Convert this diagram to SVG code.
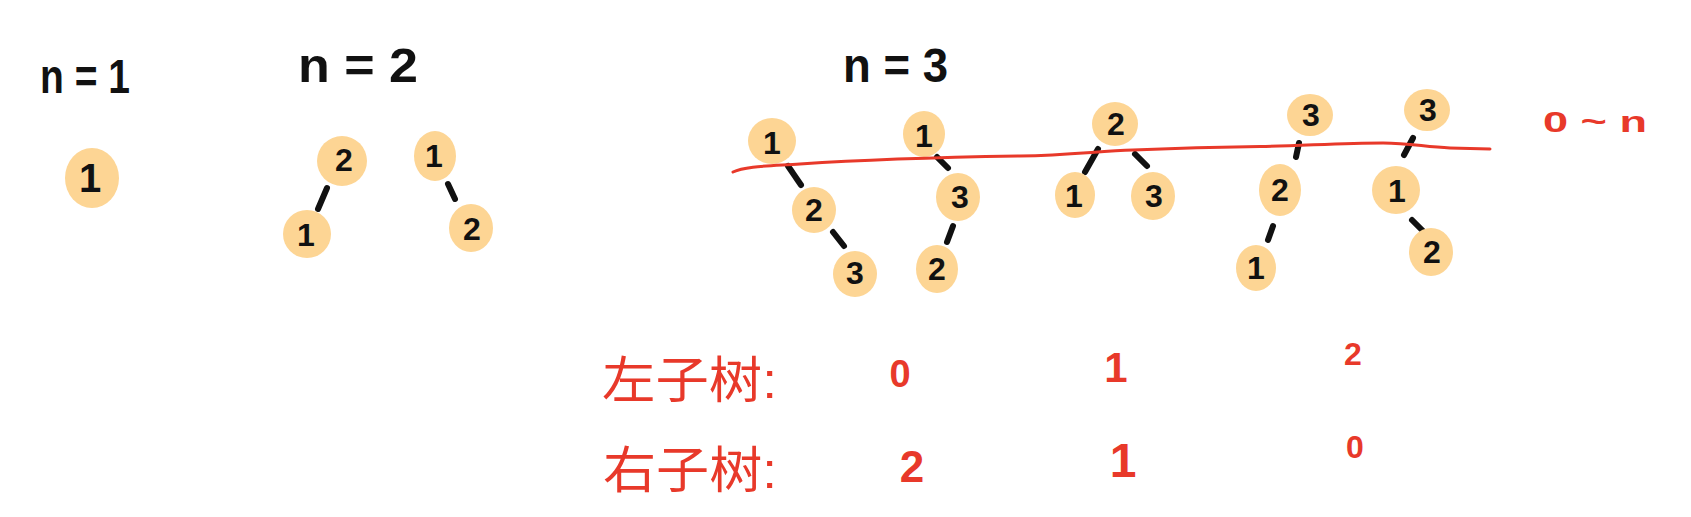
<svg xmlns="http://www.w3.org/2000/svg" width="1691" height="517" viewBox="0 0 1691 517">
<style>
.node{fill:#FDD594}
.lbl{font-family:"Liberation Sans","DejaVu Sans",sans-serif;font-weight:bold;font-size:32px;fill:#111;text-anchor:middle;dominant-baseline:central}
.title{font-family:"Liberation Sans","DejaVu Sans",sans-serif;font-weight:bold;font-size:48px;fill:#111}
.red{font-family:"Liberation Sans","Noto Sans CJK SC",sans-serif;fill:#E8392A}
.num{text-anchor:middle;font-weight:bold}
.edge{stroke:#111;stroke-width:6;stroke-linecap:round;fill:none}
</style>
<rect width="1691" height="517" fill="#fff"/>
<g id="titles">
<text class="title" x="40" y="93" textLength="90" lengthAdjust="spacingAndGlyphs">n = 1</text>
<text class="title" x="298" y="82" textLength="120" lengthAdjust="spacingAndGlyphs">n = 2</text>
<text class="title" x="843" y="82" textLength="105" lengthAdjust="spacingAndGlyphs">n = 3</text>
</g>
<g id="connectors">
<line class="edge" x1="327" y1="188" x2="318" y2="209"/>
<line class="edge" x1="448" y1="184" x2="455" y2="199"/>
<line class="edge" x1="788" y1="166" x2="801" y2="185"/>
<line class="edge" x1="833" y1="232" x2="844" y2="246"/>
<line class="edge" x1="937" y1="157" x2="948" y2="168"/>
<line class="edge" x1="953" y1="226" x2="947" y2="242"/>
<line class="edge" x1="1098" y1="149" x2="1085" y2="172"/>
<line class="edge" x1="1135" y1="154" x2="1147" y2="166"/>
<line class="edge" x1="1299" y1="143" x2="1296" y2="157"/>
<line class="edge" x1="1273" y1="226" x2="1268" y2="240"/>
<line class="edge" x1="1413" y1="138" x2="1404" y2="155"/>
<line class="edge" x1="1412" y1="220" x2="1426" y2="234"/>
</g>
<g id="n1-1"><ellipse class="node" cx="92" cy="178" rx="27" ry="30"/><text class="lbl" x="90" y="178" style="font-size:40px">1</text></g>
<g id="n2a-2"><ellipse class="node" cx="342" cy="161" rx="25" ry="25"/><text class="lbl" x="344" y="160">2</text></g>
<g id="n2a-1"><ellipse class="node" cx="307" cy="234" rx="24" ry="24"/><text class="lbl" x="306" y="235">1</text></g>
<g id="n2b-1"><ellipse class="node" cx="435" cy="156" rx="21" ry="25"/><text class="lbl" x="434" y="156">1</text></g>
<g id="n2b-2"><ellipse class="node" cx="471" cy="228" rx="22" ry="24"/><text class="lbl" x="472" y="229">2</text></g>
<g id="n3a-1"><ellipse class="node" cx="772" cy="141" rx="24" ry="23"/><text class="lbl" x="772" y="143">1</text></g>
<g id="n3a-2"><ellipse class="node" cx="814" cy="210" rx="22" ry="23"/><text class="lbl" x="814" y="210">2</text></g>
<g id="n3a-3"><ellipse class="node" cx="855" cy="274" rx="22" ry="23"/><text class="lbl" x="855" y="273">3</text></g>
<g id="n3b-1"><ellipse class="node" cx="924" cy="134" rx="21" ry="23"/><text class="lbl" x="924" y="136">1</text></g>
<g id="n3b-3"><ellipse class="node" cx="958" cy="197" rx="22" ry="24"/><text class="lbl" x="960" y="197">3</text></g>
<g id="n3b-2"><ellipse class="node" cx="937" cy="269" rx="21" ry="24"/><text class="lbl" x="937" y="269">2</text></g>
<g id="n3c-2"><ellipse class="node" cx="1115" cy="124" rx="23" ry="22"/><text class="lbl" x="1116" y="124">2</text></g>
<g id="n3c-1"><ellipse class="node" cx="1075" cy="195" rx="20" ry="23"/><text class="lbl" x="1074" y="196">1</text></g>
<g id="n3c-3"><ellipse class="node" cx="1153" cy="196" rx="22" ry="24"/><text class="lbl" x="1154" y="196">3</text></g>
<g id="n3d-3"><ellipse class="node" cx="1310" cy="115" rx="23" ry="21"/><text class="lbl" x="1311" y="115">3</text></g>
<g id="n3d-2"><ellipse class="node" cx="1280" cy="190" rx="21" ry="26"/><text class="lbl" x="1280" y="190">2</text></g>
<g id="n3d-1"><ellipse class="node" cx="1256" cy="268" rx="20" ry="23"/><text class="lbl" x="1256" y="268">1</text></g>
<g id="n3e-3"><ellipse class="node" cx="1427" cy="110" rx="23" ry="21"/><text class="lbl" x="1428" y="110">3</text></g>
<g id="n3e-1"><ellipse class="node" cx="1396" cy="190" rx="24" ry="24"/><text class="lbl" x="1397" y="191">1</text></g>
<g id="n3e-2"><ellipse class="node" cx="1431" cy="252" rx="22" ry="24"/><text class="lbl" x="1432" y="252">2</text></g>
<g id="divider">
<path d="M733 172 C745 166 770 166 800 164 C860 160 960 157 1020 156 C1070 155 1100 151 1133 150 C1180 148 1220 147 1260 146.5 C1300 146 1340 143 1383 143 C1410 143 1425 147 1450 148 L1490 149" fill="none" stroke="#E8392A" stroke-width="3" stroke-linecap="round"/>
</g>
<g id="annotations">
<text class="red" x="1543" y="132" font-size="30" font-weight="bold" textLength="104" lengthAdjust="spacingAndGlyphs">0 ~ n</text>
<text class="red" x="602" y="398" font-size="50" textLength="175" lengthAdjust="spacingAndGlyphs">左子树:</text>
<text class="red" x="603" y="488" font-size="50" textLength="174" lengthAdjust="spacingAndGlyphs">右子树:</text>
<text class="red num" x="900" y="387" font-size="38">0</text>
<text class="red num" x="1116" y="382" font-size="42">1</text>
<text class="red num" x="1353" y="365" font-size="32">2</text>
<text class="red num" x="912" y="482" font-size="44">2</text>
<text class="red num" x="1123" y="477" font-size="48">1</text>
<text class="red num" x="1355" y="458" font-size="32">0</text>
</g>
</svg>
